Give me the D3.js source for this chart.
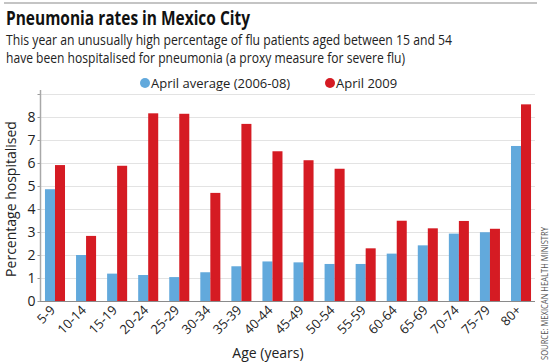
<!DOCTYPE html>
<html>
<head>
<meta charset="utf-8">
<script src="https://cdn.jsdelivr.net/npm/d3@7"></script>
<style>
  html, body { margin: 0; padding: 0; background: #fff; }
  svg { display: block; font-family: "Open Sans", "Noto Sans", sans-serif; }
</style>
</head>
<body>
<svg id="chart" width="553" height="363"></svg>
<script>
const categories = ["5-9","10-14","15-19","20-24","25-29","30-34","35-39","40-44","45-49","50-54","55-59","60-64","65-69","70-74","75-79","80+"];
const seriesNames = ["April average (2006-08)", "April 2009"];
const aprilAverage = [4.86, 2.0, 1.19, 1.13, 1.04, 1.25, 1.51, 1.72, 1.68, 1.61, 1.61, 2.06, 2.42, 2.93, 2.99, 6.74];
const april2009 = [5.91, 2.83, 5.88, 8.16, 8.14, 4.70, 7.70, 6.51, 6.12, 5.75, 2.29, 3.49, 3.16, 3.48, 3.14, 8.55];
const yTickLabels = [0, 1, 2, 3, 4, 5, 6, 7, 8];
const gridValues = [1, 2, 3, 4, 5, 6, 7, 8, 9];
const colors = ["#62a9dc", "#d51b23"];

const svg = d3.select("#chart");

// top rule
svg.append("line").attr("x1", 4).attr("x2", 537).attr("y1", 3).attr("y2", 3)
  .attr("stroke", "#c4c4c4").attr("stroke-width", 2);

// title & subtitle
svg.append("text").attr("x", 6).attr("y", 25)
  .attr("font-size", 20).attr("font-weight", "bold").attr("fill", "#111")
  .attr("textLength", 244).attr("lengthAdjust", "spacingAndGlyphs")
  .text("Pneumonia rates in Mexico City");
svg.append("text").attr("x", 6).attr("y", 45)
  .attr("font-size", 14).attr("fill", "#222")
  .attr("textLength", 446).attr("lengthAdjust", "spacingAndGlyphs")
  .text("This year an unusually high percentage of flu patients aged between 15 and 54");
svg.append("text").attr("x", 6).attr("y", 63)
  .attr("font-size", 14).attr("fill", "#222")
  .attr("textLength", 399).attr("lengthAdjust", "spacingAndGlyphs")
  .text("have been hospitalised for pneumonia (a proxy measure for severe flu)");

// scales
const x0 = d3.scaleBand().domain(categories).range([40, 536]).paddingInner(0.355).paddingOuter(0.16);
const x1 = d3.scaleBand().domain([0, 1]).range([0, x0.bandwidth()]);
const y = d3.scaleLinear().domain([0, 9]).range([301, 94]);

// gridlines
svg.append("g").selectAll("line").data(gridValues).join("line")
  .attr("x1", 40).attr("x2", 535)
  .attr("y1", d => y(d) + 0.5).attr("y2", d => y(d) + 0.5)
  .attr("stroke", "#e3e3e3").attr("stroke-width", 1);

// y axis
const yAxis = d3.axisLeft(y).tickValues(d3.range(0, 10)).tickSize(3)
  .tickFormat(d => yTickLabels.includes(d) ? d : "");
const gy = svg.append("g").attr("transform", "translate(40.5,0)").call(yAxis);
gy.select(".domain").remove();
gy.selectAll(".tick line").attr("stroke", "#9a9a9a");
gy.selectAll(".tick text").attr("font-size", 14).attr("fill", "#222")
  .attr("font-family", "'Open Sans', sans-serif").attr("x", -5);
svg.append("line").attr("x1", 40.5).attr("x2", 40.5).attr("y1", 90).attr("y2", 302)
  .attr("stroke", "#a8a8a8").attr("stroke-width", 1.5);

// bars
const groups = svg.append("g").selectAll("g").data(categories).join("g")
  .attr("transform", d => `translate(${x0(d)},0)`);
const seriesData = [aprilAverage, april2009];
groups.selectAll("rect").data((d, i) => seriesData.map((s, k) => ({k, v: s[i]}))).join("rect")
  .attr("x", d => x1(d.k)).attr("width", x1.bandwidth())
  .attr("y", d => y(d.v)).attr("height", d => y(0) - y(d.v))
  .attr("fill", d => colors[d.k]);

// x axis baseline
svg.append("line").attr("x1", 40).attr("x2", 535).attr("y1", 301.5).attr("y2", 301.5)
  .attr("stroke", "#8a8a8a").attr("stroke-width", 1);

// x labels
const xAxis = d3.axisBottom(x0).tickSize(0);
const gx = svg.append("g").attr("transform", "translate(0,301)").call(xAxis);
gx.select(".domain").remove();
gx.selectAll(".tick text")
  .attr("font-size", 13).attr("fill", "#222").attr("font-family", "'Open Sans', sans-serif")
  .attr("text-anchor", "end").attr("dy", 0).attr("y", 0)
  .attr("transform", "translate(1,10) rotate(-45)");

// axis titles
svg.append("text").attr("transform", "translate(16,199) rotate(-90)")
  .attr("text-anchor", "middle").attr("font-size", 14).attr("fill", "#222")
  .text("Percentage hospitalised");
svg.append("text").attr("x", 268).attr("y", 358)
  .attr("text-anchor", "middle").attr("font-size", 14).attr("fill", "#222")
  .text("Age (years)");

// source
svg.append("text").attr("transform", "translate(548,360) rotate(-90)")
  .attr("font-size", 9).attr("fill", "#555")
  .attr("textLength", 133).attr("lengthAdjust", "spacingAndGlyphs")
  .text("SOURCE: MEXICAN HEALTH MINISTRY");

// legend
const legendItems = [{name: seriesNames[0], cx: 145, tx: 151}, {name: seriesNames[1], cx: 330, tx: 336}];
const lg = svg.append("g").selectAll("g").data(legendItems).join("g");
lg.append("circle").attr("cx", d => d.cx).attr("cy", 83).attr("r", 5)
  .attr("fill", (d, i) => colors[i]);
lg.append("text").attr("x", d => d.tx).attr("y", 88)
  .attr("font-size", 13).attr("fill", "#222")
  .text(d => d.name);
</script>
</body>
</html>
